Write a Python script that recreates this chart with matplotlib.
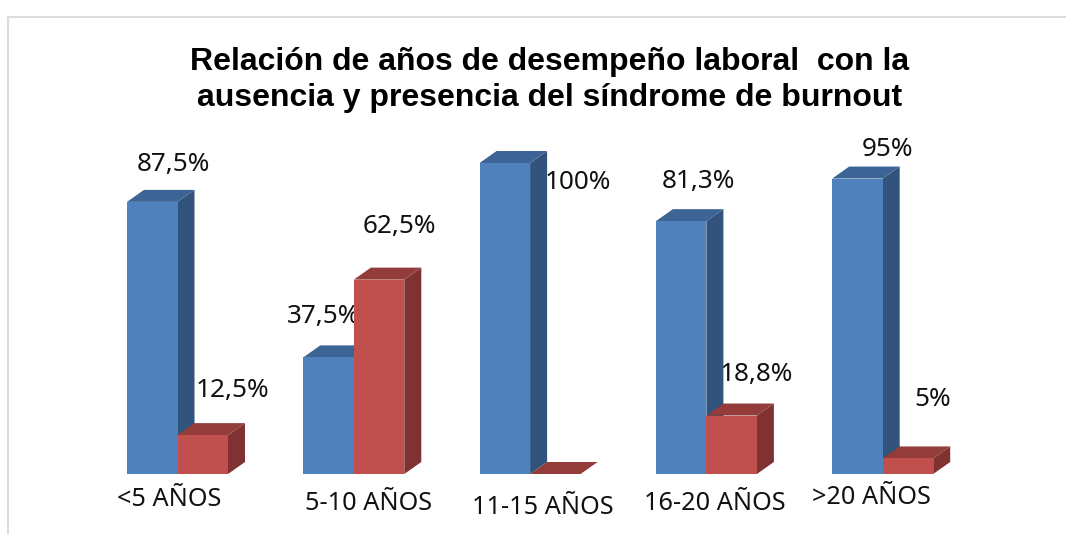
import matplotlib
matplotlib.use('Agg')
import matplotlib.pyplot as plt
from matplotlib.patches import Polygon

# values
categories = ['<5 AÑOS', '5-10 AÑOS', '11-15 AÑOS', '16-20 AÑOS', '>20 AÑOS']
ausencia = [87.5, 37.5, 100, 81.3, 95]
presencia = [12.5, 62.5, 0, 18.8, 5]
aus_labels = ['87,5%', '37,5%', '100%', '81,3%', '95%']
pre_labels = ['12,5%', '62,5%', '', '18,8%', '5%']

W, H = 1066, 534
plt.rcParams['font.family'] = ['Liberation Sans', 'DejaVu Sans']

fig = plt.figure(figsize=(W / 100, H / 100), dpi=100)
bg = fig.add_axes([0, 0, 1, 1])
bg.set_xlim(0, W)
bg.set_ylim(H, 0)
bg.axis('off')
# frame of the pasted chart
bg.plot([8, 8, W], [H, 16.5, 16.5], color='#dcdcdc', lw=1.5)

# data axes: x in category units, y in percent
ax = fig.add_axes([0, 0, 1, 1])
ax.axis('off')
ax.patch.set_alpha(0)
x0, step = 127, 176.3
bw = 50.5
base, top = 474, 163
ax.set_xlim(-x0 / step, (W - x0) / step)
ax.set_ylim((H - base) / ((base - top) / 100) * -1, base / ((base - top) / 100))
bw_u = bw / step
dx, dy = 17 / step, 12 / ((base - top) / 100)


def bar3d(x, v, front, side, topc):
    ax.add_patch(Polygon([(x, 0), (x + bw_u, 0), (x + bw_u, v), (x, v)], fc=front, ec='none', zorder=3))
    ax.add_patch(Polygon([(x + bw_u, 0), (x + bw_u + dx, dy), (x + bw_u + dx, v + dy), (x + bw_u, v)],
                         fc=side, ec='none', zorder=2))
    ax.add_patch(Polygon([(x, v), (x + bw_u, v), (x + bw_u + dx, v + dy), (x + dx, v + dy)],
                         fc=topc, ec='none', zorder=2))


for i in range(len(categories)):
    bar3d(i, ausencia[i], '#4f81bd', '#32537b', '#3c6494')
    bar3d(i + bw_u, presencia[i], '#c0504d', '#7f3231', '#933c3a')

# label positions follow the picture, they were placed by hand in the original
aus_pos = [(173.5, 161.5), (323.5, 313.5), (577.5, 179.5), (698, 178.5), (887.5, 146.5)]
pre_pos = [(232, 387.5), (399, 223.5), None, (756, 371.5), (933, 396.5)]
cat_pos = [(169.5, 496), (368.5, 500), (543, 505), (715, 500), (871.5, 495)]
lab_font = ['Noto Sans', 'DejaVu Sans']
for i in range(len(categories)):
    bg.text(*aus_pos[i], aus_labels[i], fontsize=18.8, family=lab_font, ha='center', va='center_baseline',
            color='#111111', zorder=5)
    if pre_pos[i]:
        bg.text(*pre_pos[i], pre_labels[i], fontsize=18.8, family=lab_font, ha='center', va='center_baseline',
                color='#111111', zorder=5)
    bg.text(*cat_pos[i], categories[i], fontsize=18.2, family=lab_font, ha='center', va='center_baseline',
            color='#111111', zorder=5)

bg.text(550, 62, 'Relación de años de desempeño laboral  con la', fontsize=23.05, fontweight='bold',
        ha='center', va='center', color='black')
bg.text(550, 98, 'ausencia y presencia del síndrome de burnout', fontsize=23.05, fontweight='bold',
        ha='center', va='center', color='black')

fig.savefig('out.png', dpi=100)
